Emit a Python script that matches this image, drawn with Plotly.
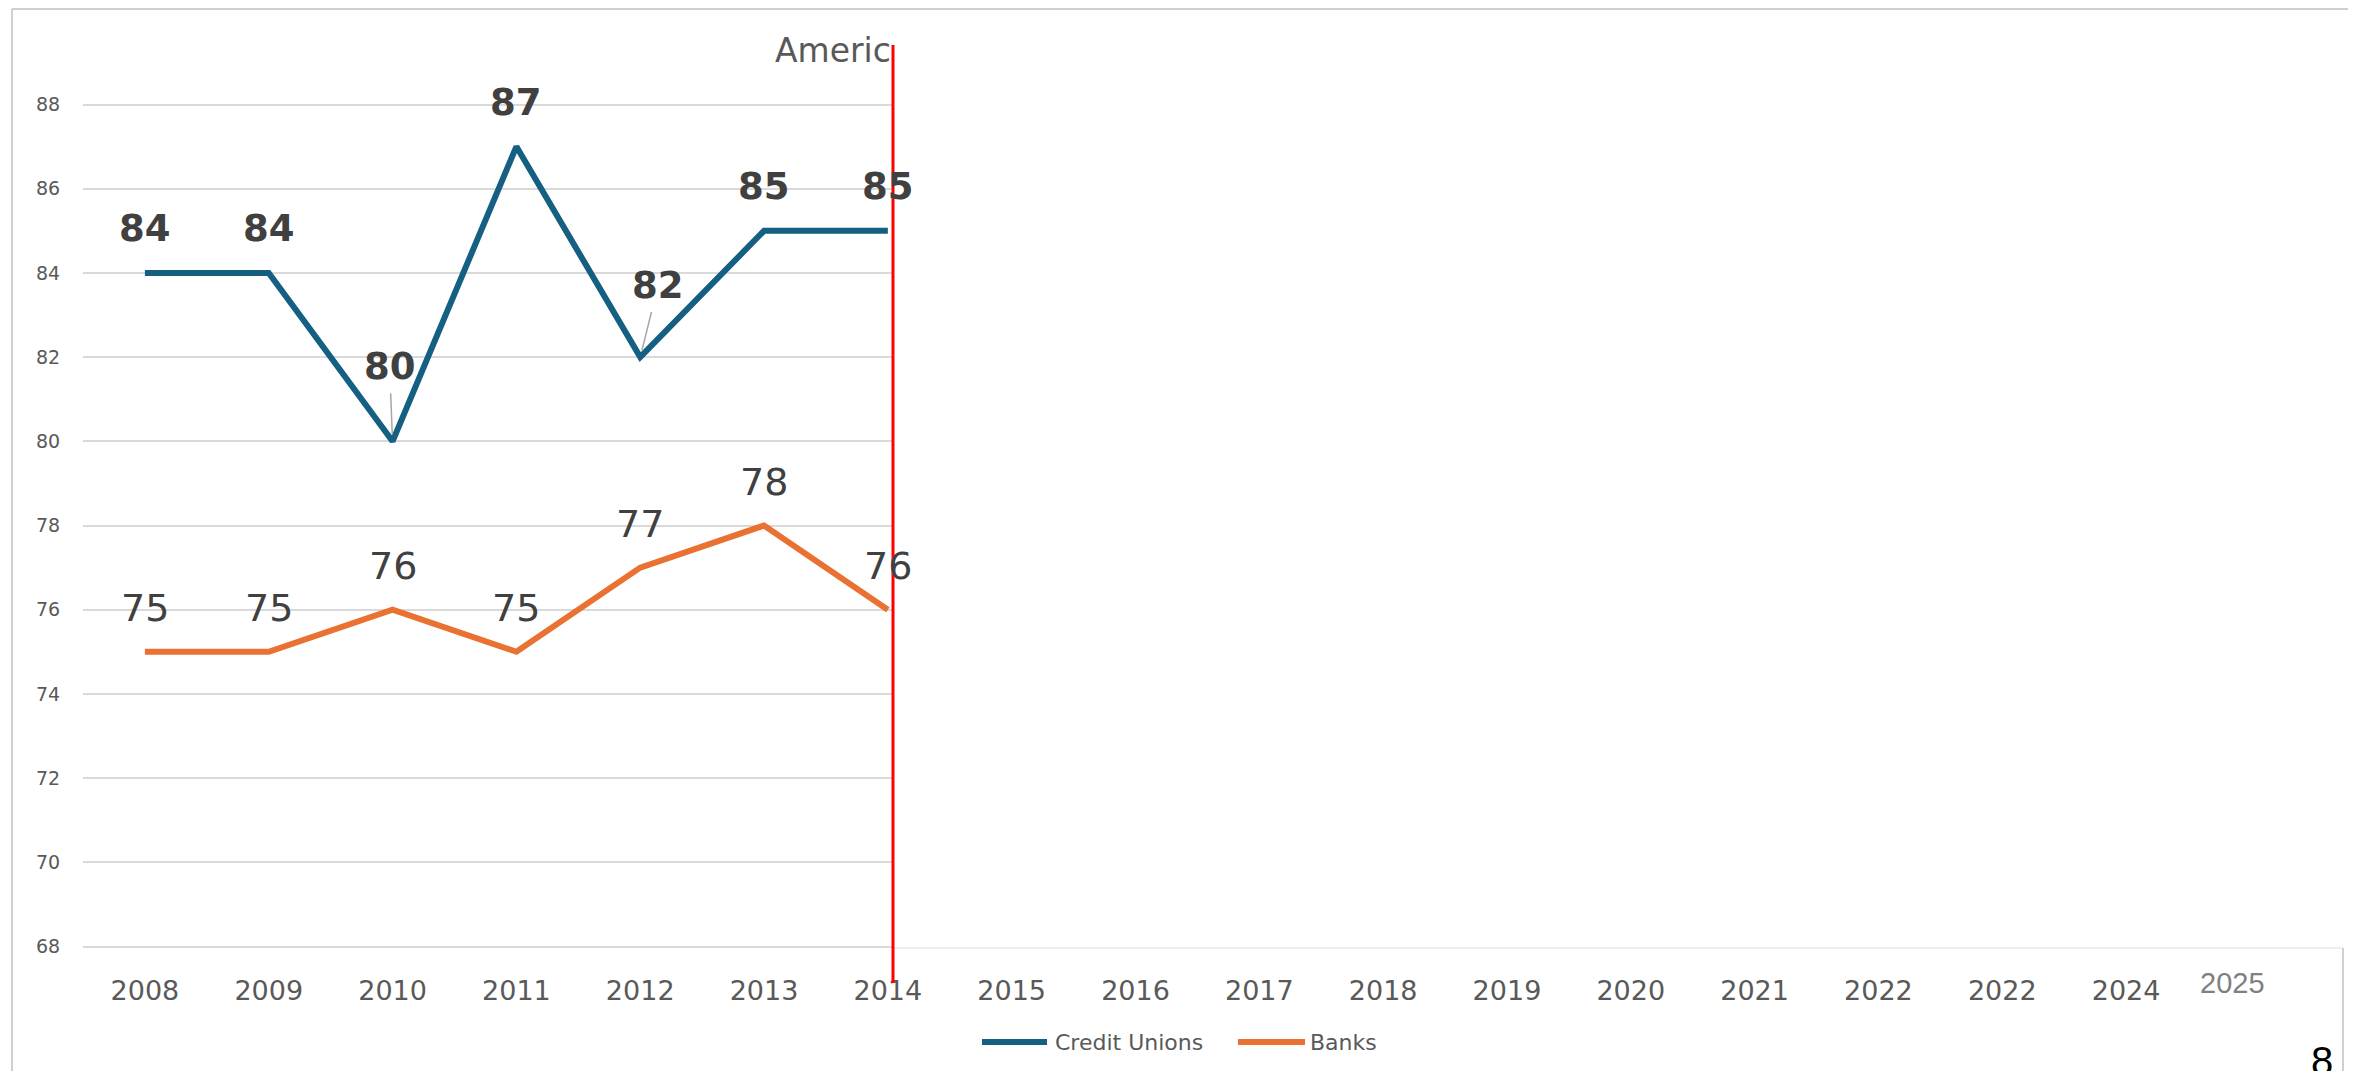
import plotly.graph_objects as go

# ---------------- data ----------------
years = [2008, 2009, 2010, 2011, 2012, 2013, 2014]
credit_unions = [84, 84, 80, 87, 82, 85, 85]
banks = [75, 75, 76, 75, 77, 78, 76]

axis_years = list(range(2008, 2025))
tick_labels = ["2008", "2009", "2010", "2011", "2012", "2013", "2014", "2015", "2016",
               "2017", "2018", "2019", "2020", "2021", "2022", "2022", "2024"]
extra_label = "2025"
title_text = "Americ"
page_number = "8"
series_names = ["Credit Unions", "Banks"]

# ---------------- layout geometry (page pixels) ----------------
W, H = 2356, 1071
OFF = 8                      # default page margin of the html body
PLOT_L, PLOT_T = 83, 40      # plot area position on the page
PW, PH = 2105, 915           # plot area size
L = PLOT_L - OFF
T = PLOT_T - OFF
R = W - L - PW
B = H - T - PH


def px(xp):
    return (xp - OFF - L) / PW


def py(yp):
    return (H - B - (yp - OFF)) / PH


CU_COLOR = "#156082"
BK_COLOR = "#E97132"
TXT = "#595959"
LBL = "#404040"
FONT = "DejaVu Sans"

fig = go.Figure()
fig.add_trace(go.Scatter(x=years, y=credit_unions, mode="lines", name=series_names[0],
                         line=dict(color=CU_COLOR, width=6), showlegend=False, hoverinfo="skip"))
fig.add_trace(go.Scatter(x=years, y=banks, mode="lines", name=series_names[1],
                         line=dict(color=BK_COLOR, width=6), showlegend=False, hoverinfo="skip"))

annotations = []
# credit union labels (bold), some with leader lines
leader = {2010: (-3, -75), 2012: (18, -72)}
for yr, v in zip(years, credit_unions):
    if yr in leader:
        ax, ay = leader[yr]
        annotations.append(dict(x=yr, y=v, xref="x", yref="y", text=f"<b>{v}</b>",
                                showarrow=True, arrowhead=0, arrowwidth=1.5, arrowcolor="#a6a6a6",
                                ax=ax, ay=ay, standoff=7, startstandoff=4,
                                font=dict(family=FONT, size=37, color=LBL)))
    else:
        annotations.append(dict(x=yr, y=v, xref="x", yref="y", text=f"<b>{v}</b>",
                                showarrow=False, yshift=44,
                                font=dict(family=FONT, size=37, color=LBL)))
for yr, v in zip(years, banks):
    annotations.append(dict(x=yr, y=v, xref="x", yref="y", text=str(v),
                            showarrow=False, yshift=44,
                            font=dict(family=FONT, size=38, color=LBL)))

# title (partially revealed)
annotations.append(dict(x=px(893), y=py(50), xref="paper", yref="paper", text=title_text,
                        xanchor="right", yanchor="middle", showarrow=False,
                        font=dict(family=FONT, size=33, color=TXT)))
# extra axis label
annotations.append(dict(x=px(2232), y=py(983), xref="paper", yref="paper", text=extra_label,
                        xanchor="center", yanchor="middle", showarrow=False,
                        font=dict(family="Liberation Sans", size=29, color="#808080")))
# page number
annotations.append(dict(x=px(2322), y=py(1061), xref="paper", yref="paper", text=page_number,
                        xanchor="center", yanchor="middle", showarrow=False,
                        font=dict(family="Liberation Sans", size=40, color="#000000")))

# custom legend
shapes = []
leg_y = 1042
for (x0, x1, tx), name, col in zip([(982, 1047, 1053), (1238, 1305, 1308)], series_names,
                                   [CU_COLOR, BK_COLOR]):
    shapes.append(dict(type="line", xref="paper", yref="paper", x0=px(x0), x1=px(x1),
                       y0=py(leg_y), y1=py(leg_y), line=dict(color=col, width=6), layer="above"))
    annotations.append(dict(x=px(tx), y=py(leg_y), xref="paper", yref="paper", text=name,
                            xanchor="left", yanchor="middle", showarrow=False,
                            font=dict(family=FONT, size=22, color=TXT)))

# mask covering the un-revealed part of the chart
shapes.append(dict(type="rect", xref="paper", yref="paper", x0=px(894), x1=px(W + 20),
                   y0=py(948), y1=py(OFF + 3), fillcolor="white", line=dict(width=0), layer="above"))
# faint frame pieces
shapes.append(dict(type="line", xref="paper", yref="paper", x0=px(894), x1=px(2343),
                   y0=py(948), y1=py(948), line=dict(color="#e8e8e8", width=1.5), layer="above"))
shapes.append(dict(type="line", xref="paper", yref="paper", x0=px(2343), x1=px(2343),
                   y0=py(948), y1=py(H + 10), line=dict(color="#d0d0d0", width=2), layer="above"))
shapes.append(dict(type="line", xref="paper", yref="paper", x0=px(OFF + 4), x1=px(W + 10),
                   y0=py(OFF + 1), y1=py(OFF + 1), line=dict(color="#cfcfcf", width=2), layer="above"))
shapes.append(dict(type="line", xref="paper", yref="paper", x0=px(OFF + 4), x1=px(OFF + 4),
                   y0=py(OFF + 1), y1=py(H + 10), line=dict(color="#cfcfcf", width=2), layer="above"))
# red reveal line
shapes.append(dict(type="line", xref="paper", yref="paper", x0=px(893), x1=px(893),
                   y0=py(45), y1=py(983), line=dict(color="#ff0000", width=3), layer="above"))

fig.update_layout(
    width=W, height=H,
    margin=dict(l=L, r=R, t=T, b=B, pad=0),
    paper_bgcolor="white", plot_bgcolor="white",
    showlegend=False,
    xaxis=dict(range=[2007.5, 2024.5], tickmode="array", tickvals=axis_years, ticktext=tick_labels,
               showgrid=False, zeroline=False, showline=False,
               ticks="outside", ticklen=12, tickcolor="white",
               tickfont=dict(family=FONT, size=27, color=TXT)),
    yaxis=dict(range=[67.798, 89.532], tick0=68, dtick=2, showgrid=True,
               gridcolor="#d9d9d9", gridwidth=1.5, zeroline=False, showline=False,
               ticks="outside", ticklen=18, tickcolor="white",
               tickfont=dict(family=FONT, size=19, color=TXT)),
    annotations=annotations,
    shapes=shapes,
)

fig.write_html("out.html")
